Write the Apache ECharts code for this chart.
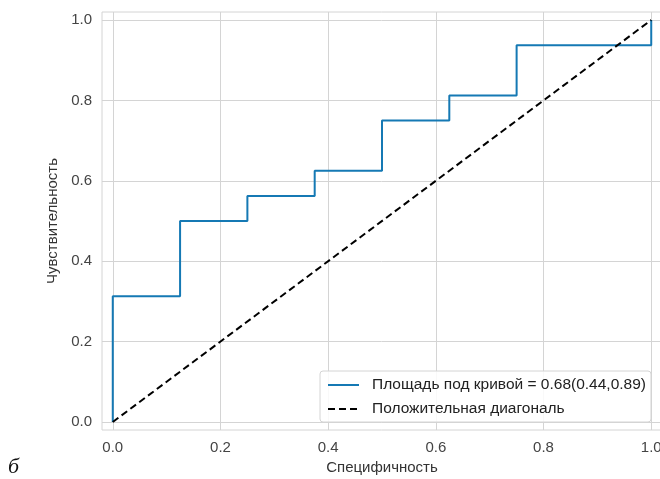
<!DOCTYPE html>
<html>
<head>
<meta charset="utf-8">
<script src="https://cdn.jsdelivr.net/npm/echarts@6/dist/echarts.min.js"></script>
<style>html,body{margin:0;padding:0;background:#fff}#c{width:660px;height:479px}</style>
</head>
<body>
<div id="c"></div>
<script>
const rocFpr = [0, 0, 0.125, 0.125, 0.25, 0.25, 0.375, 0.375, 0.5, 0.5, 0.625, 0.625, 0.75, 0.75, 1.0, 1.0];
const rocTpr = [0, 0.3125, 0.3125, 0.5, 0.5, 0.5625, 0.5625, 0.625, 0.625, 0.75, 0.75, 0.8125, 0.8125, 0.9375, 0.9375, 1.0];
const diagX = [0, 1];
const diagY = [0, 1];
const tickValues = [0, 0.2, 0.4, 0.6, 0.8, 1.0];
const rocName = 'Площадь под кривой = 0.68(0.44,0.89)';
const diagName = 'Положительная диагональ';
const xTitle = 'Специфичность';
const yTitle = 'Чувствительность';

const chart = echarts.init(document.getElementById('c'), null, {renderer: 'canvas'});
const font = 'Liberation Sans, Arial, sans-serif';
const gridColor = '#d4d4d4';
function axis(name, gap) {
  return {
    type: 'value', min: -0.02, max: 1.02,
    name: name, nameLocation: 'middle', nameGap: gap,
    nameTextStyle: {fontFamily: font, fontSize: 15, color: '#333'},
    axisLine: {show: false},
    axisTick: {show: false, customValues: tickValues},
    axisLabel: {customValues: tickValues, fontFamily: font, fontSize: 15, color: '#444',
      formatter: v => v.toFixed(1)},
    splitLine: {show: true, lineStyle: {color: gridColor, width: 1}}
  };
}
const xAx = axis(xTitle, 28); xAx.axisLabel.margin = 10;
const yAx = axis(yTitle, 41); yAx.axisLabel.margin = 10;
chart.setOption({
  animation: false,
  backgroundColor: '#fff',
  grid: {left: 102, top: 12, width: 560, height: 418, show: true, borderColor: gridColor, borderWidth: 1,
         containLabel: false, outerBoundsMode: 'none'},
  xAxis: xAx,
  yAxis: yAx,
  legend: {
    orient: 'vertical', left: 320, top: 371, itemWidth: 31, itemHeight: 14, itemGap: 8,
    padding: [6, 5, 5, 7], borderColor: '#d4d4d4', borderWidth: 1, borderRadius: 3,
    backgroundColor: 'rgba(255,255,255,0.85)',
    itemStyle: {opacity: 0},
    textStyle: {fontFamily: font, fontSize: 15.5, color: '#222', padding: [0, 0, 0, 8]},
    data: [rocName, diagName]
  },
  graphic: [{type: 'text', left: 8, top: 456, style: {text: 'б', font: 'italic 22px "Liberation Serif", serif', fill: '#111'}}],
  series: [
    {name: rocName, type: 'line', symbol: 'none', data: rocFpr.map((x, i) => [x, rocTpr[i]]),
     lineStyle: {color: '#1579b4', width: 2}, itemStyle: {color: '#1579b4'}},
    {name: diagName, type: 'line', symbol: 'none', data: diagX.map((x, i) => [x, diagY[i]]),
     lineStyle: {color: '#000', width: 2, type: [7, 4]}, itemStyle: {color: '#000'}}
  ]
});
</script>
</body>
</html>
